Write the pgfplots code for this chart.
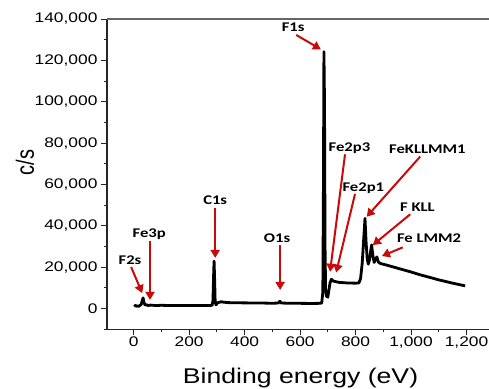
\documentclass[border=0pt]{standalone}
\usepackage{fontspec}
\setmainfont{Liberation Sans}[FakeStretch=1.25]
\newfontfamily\plainfont{Liberation Sans}
\newfontfamily\annfont{Carlito}[FakeStretch=1.25]
\usepackage{graphicx}
\usepackage{pgfplots}
\pgfplotsset{compat=1.18}
\usetikzlibrary{arrows.meta}
\definecolor{arr}{RGB}{200,10,10}
\begin{document}
\begin{tikzpicture}[x=1pt,y=1pt]
\begin{axis}[
 scale only axis, width=382pt, height=310.3pt,
 xmin=-96, xmax=1281, ymin=-10000, ymax=140000,
 axis x line*=bottom, axis y line*=left,
 axis line style={line width=1.2pt, black!85},
 xtick={0,200,...,1200}, minor xtick={100,300,...,1100},
 xticklabels={0,200,400,600,800,{1,000},{1,200}},
 ytick={0,20000,40000,60000,80000,100000,120000,140000}, minor ytick={-10000,10000,...,130000},
 yticklabels={0,{20,000},{40,000},{60,000},{80,000},{100,000},{120,000},{140,000}},
 tick align=outside, major tick length=6pt, minor tick length=3pt,
 tick style={line width=0.9pt, black!85},
 scaled y ticks=false,
 ticklabel style={font=\fontsize{13.9}{16}\selectfont},
 xticklabel style={yshift=2pt},
 ylabel={\scalebox{1}[1.25]{\plainfont\fontsize{20}{22}\selectfont c/s}},
 ylabel style={at={(axis description cs:-0.2147,0.538)}, anchor=center},
 xlabel={\fontsize{21.3}{24}\selectfont Binding energy (eV)},
 xlabel style={at={(axis description cs:0.5066,-0.175)}, anchor=base},
 clip=false,
]
\draw[black!60, line width=1.2pt] (rel axis cs:0,1) -- (rel axis cs:1,1);
\addplot[black, line width=2.8pt, line join=round] coordinates {
(3,900) (6,1600) (9,1100) (13,1400) (18,1000) (22,1500) (27,1900) (31,3800) (34,5200) (37,3200) (41,1700) (46,1900) (52,1500) (60,1700) (80,1500) (100,1600) (130,1500) (160,1550) (200,1500) (240,1550) (270,1500) (283,1600) (286,4000) (288,15000) (290,23000) (292,14000) (294,3000) (297,1800) (302,2800) (315,3300) (325,3100) (340,2900) (380,2800) (420,2750) (460,2700) (500,2600) (522,2700) (527,3600) (532,2700) (560,2600) (600,2550) (640,2500) (670,2550) (678,2700) (682,8000) (684,55000) (686,124200) (688,100000) (690,30000) (692,9000) (695,6000) (700,5500) (704,9000) (708,12500) (713,14200) (720,13300) (740,12700) (770,12400) (800,12300) (812,12400) (818,14500) (824,22000) (829,33000) (834,43600) (838,32000) (842,24000) (846,21500) (851,24000) (855,28500) (858,30800) (862,26000) (867,22300) (872,24000) (877,25000) (882,22500) (890,21800) (913,21000) (950,19600) (1000,17700) (1034,16300) (1070,15000) (1100,13900) (1150,12300) (1195,11000)
};
\tikzset{ann/.style={font=\annfont\bfseries\fontsize{13.3}{15}\selectfont, black, inner sep=0pt},
 ar/.style={arr, line width=2pt, -{Triangle[length=8pt,width=9pt]}}}
\node[ann] at (axis cs:575,136100) {F1s};
\draw[ar] (axis cs:586,132300) -- (axis cs:675,125300);
\node[ann] at (axis cs:778,77500) {Fe2p3};
\draw[ar] (axis cs:762,74600) -- (axis cs:708,17800);
\node[ann] at (axis cs:828,58200) {Fe2p1};
\draw[ar] (axis cs:798,55400) -- (axis cs:730,17400);
\node[ann] at (axis cs:1059,77000) {FeKLLMM1};
\draw[ar] (axis cs:1033,73500) -- (axis cs:840,44400);
\node[ann] at (axis cs:1023,49000) {F KLL};
\draw[ar] (axis cs:997,45600) -- (axis cs:862,30700);
\node[ann] at (axis cs:1065,34000) {Fe LMM2};
\draw[ar] (axis cs:970,29600) -- (axis cs:895,25400);
\node[ann] at (axis cs:517,34000) {O1s};
\draw[ar] (axis cs:528,30700) -- (axis cs:528,9000);
\node[ann] at (axis cs:294,52400) {C1s};
\draw[ar] (axis cs:294,48500) -- (axis cs:294,24500);
\node[ann] at (axis cs:56,36000) {Fe3p};
\draw[ar] (axis cs:59,32600) -- (axis cs:59,4200);
\node[ann] at (axis cs:-13,23500) {F2s};
\draw[ar] (axis cs:-9,20100) -- (axis cs:31,7500);
\end{axis}
\pgfresetboundingbox
\path[use as bounding box] (-107,-58.7) rectangle (382,329.3);
\end{tikzpicture}
\end{document}
